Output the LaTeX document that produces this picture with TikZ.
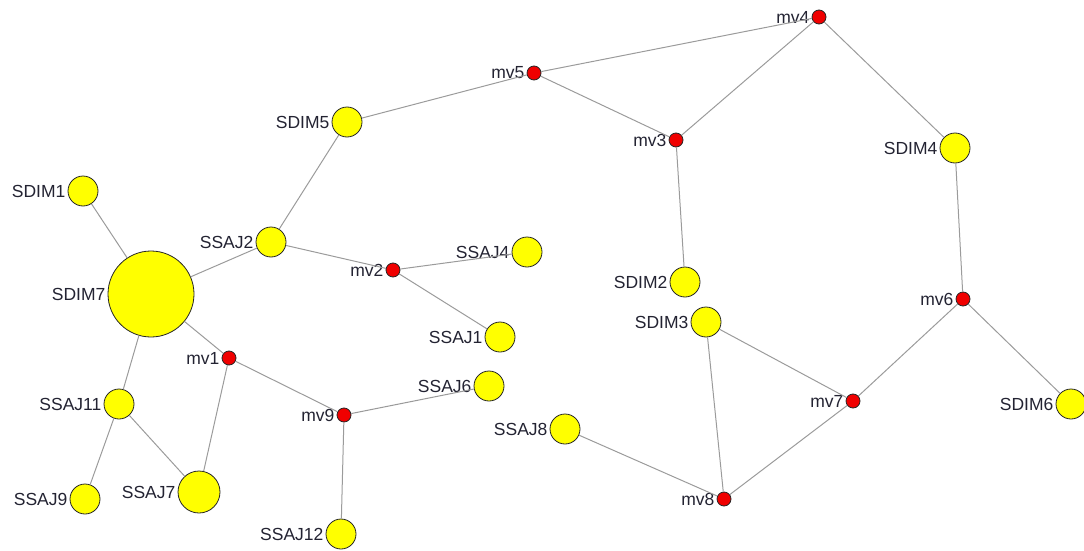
\documentclass[tikz,border=0pt]{standalone}
\usepackage{fontspec}
\setmainfont{Liberation Sans}
\definecolor{edgec}{RGB}{155,155,155}
\definecolor{txtc}{RGB}{35,35,50}
\definecolor{yel}{RGB}{255,255,0}
\definecolor{redc}{RGB}{240,0,0}
\begin{document}
\begin{tikzpicture}[x=1pt,y=-1pt,
  vtx/.style={circle,draw=black!85,line width=0.8pt,inner sep=0pt},
  yv/.style={vtx,fill=yel,minimum size=30pt},
  rv/.style={vtx,fill=redc,minimum size=14pt},
  lb/.style={label={[font=\fontsize{17.5}{19}\selectfont,text=txtc,inner sep=0pt,label distance=2pt]left:#1}},
  edge/.style={draw=edgec,line width=1pt}]
\useasboundingbox (0,0) rectangle (1084,551);
% red nodes
\node[rv,lb=mv4] (mv4) at (819,17) {};
\node[rv,lb=mv5] (mv5) at (534,73) {};
\node[rv,lb=mv3] (mv3) at (676,140) {};
\node[rv,lb=mv2] (mv2) at (393,270) {};
\node[rv,lb=mv1] (mv1) at (229,358) {};
\node[rv,lb=mv9] (mv9) at (344,415) {};
\node[rv,lb=mv6] (mv6) at (963,299) {};
\node[rv,lb=mv7] (mv7) at (853,401) {};
\node[rv,lb=mv8] (mv8) at (724,499) {};
% yellow nodes
\node[yv,lb=SDIM5] (SDIM5) at (347,122) {};
\node[yv,lb=SDIM1] (SDIM1) at (83,191) {};
\node[yv,lb=SSAJ2] (SSAJ2) at (271,242) {};
\node[yv,minimum size=86pt,lb=SDIM7] (SDIM7) at (151,294) {};
\node[yv,lb=SSAJ4] (SSAJ4) at (527,252) {};
\node[yv,lb=SSAJ1] (SSAJ1) at (500,337) {};
\node[yv,lb=SSAJ6] (SSAJ6) at (489,386) {};
\node[yv,lb=SSAJ11] (SSAJ11) at (119,404) {};
\node[yv,minimum size=42pt,lb=SSAJ7] (SSAJ7) at (199,492) {};
\node[yv,lb=SSAJ9] (SSAJ9) at (85,499) {};
\node[yv,lb=SSAJ12] (SSAJ12) at (341,534) {};
\node[yv,lb=SDIM2] (SDIM2) at (685,282) {};
\node[yv,lb=SDIM3] (SDIM3) at (706,322) {};
\node[yv,lb=SSAJ8] (SSAJ8) at (565,429) {};
\node[yv,lb=SDIM4] (SDIM4) at (955,148) {};
\node[yv,lb=SDIM6] (SDIM6) at (1071,404) {};
% edges
\path[edge]
  (mv4) -- (mv5)
  (mv4) -- (mv3)
  (mv4) -- (SDIM4)
  (mv5) -- (mv3)
  (mv5) -- (SDIM5)
  (mv3) -- (SDIM2)
  (SDIM5) -- (SSAJ2)
  (SDIM1) -- (SDIM7)
  (SSAJ2) -- (SDIM7)
  (SSAJ2) -- (mv2)
  (mv2) -- (SSAJ4)
  (mv2) -- (SSAJ1)
  (SDIM7) -- (mv1)
  (SDIM7) -- (SSAJ11)
  (mv1) -- (SSAJ7)
  (mv1) -- (mv9)
  (mv9) -- (SSAJ6)
  (mv9) -- (SSAJ12)
  (SSAJ11) -- (SSAJ9)
  (SSAJ11) -- (SSAJ7)
  (SDIM4) -- (mv6)
  (mv6) -- (mv7)
  (mv6) -- (SDIM6)
  (mv7) -- (SDIM3)
  (mv7) -- (mv8)
  (SDIM3) -- (mv8)
  (SSAJ8) -- (mv8);
\end{tikzpicture}
\end{document}
